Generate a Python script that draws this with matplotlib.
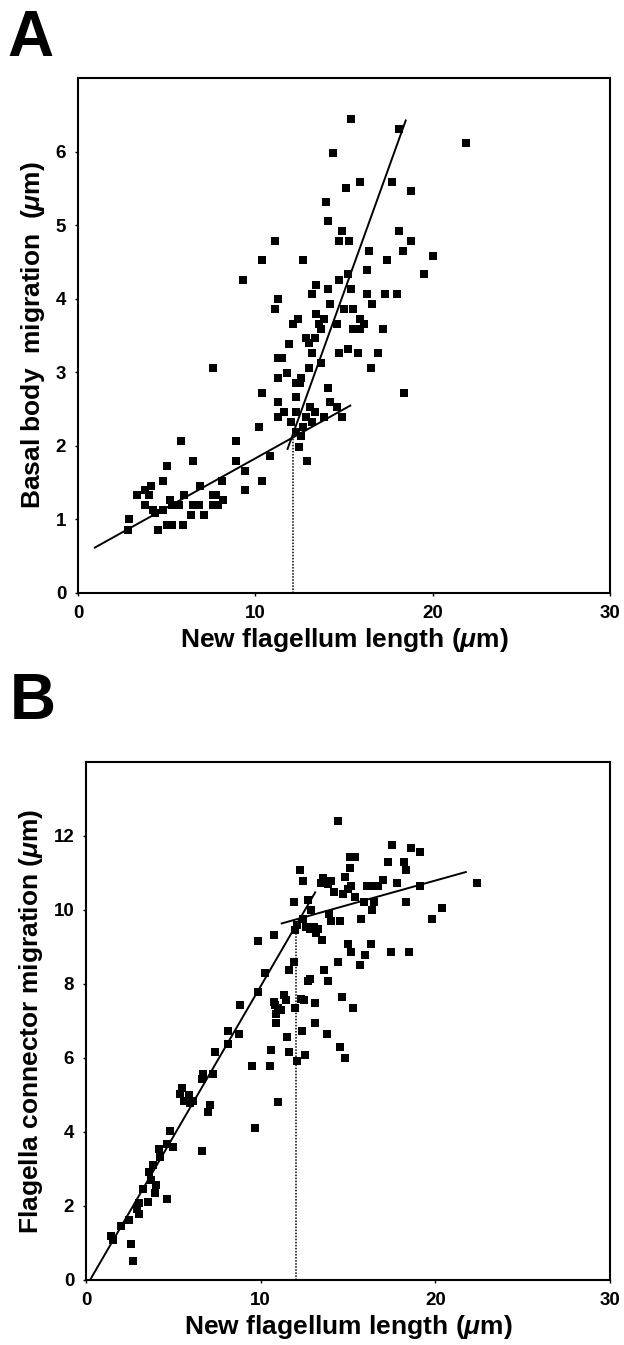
import matplotlib
matplotlib.use("Agg")
import matplotlib.pyplot as plt
import numpy as np

plt.rcParams['font.family'] = ['Liberation Sans', 'DejaVu Sans']
plt.rcParams['font.weight'] = 'bold'
plt.rcParams['mathtext.fontset'] = 'custom'
plt.rcParams['mathtext.rm'] = 'Liberation Sans:bold'
plt.rcParams['mathtext.it'] = 'Liberation Sans:italic:bold'
plt.rcParams['mathtext.bf'] = 'Liberation Sans:bold'

# panel A: new flagellum length vs basal body migration (um)
a_len = [15.4, 18.1, 21.9, 14.4, 15.1, 15.9, 17.7, 18.8, 14.0, 14.1,
         14.9, 18.1, 11.1, 14.7, 15.3, 18.8, 10.4, 12.7, 16.4, 18.3,
         17.4, 20.0, 9.3, 14.7, 15.2, 16.3, 19.5, 13.4, 14.1, 15.4,
         11.3, 13.2, 16.3, 17.3, 18.0, 11.1, 14.2, 16.6, 15.0, 15.5,
         12.4, 13.4, 12.1, 13.6, 13.9, 14.6, 15.9, 16.1, 15.5, 15.9,
         17.2, 13.7,
         11.9, 12.85, 13.35, 13.0, 11.3, 11.5, 13.2, 14.7, 15.2, 15.8,
         16.9, 13.7, 7.6, 13.0, 16.5, 11.3, 11.8, 12.3, 12.6, 12.5,
         14.1, 18.4, 10.4, 12.3, 11.3, 14.2, 14.6, 13.1, 13.35, 11.6,
         12.3, 11.3, 12.85, 13.2, 13.85, 14.9, 12.0, 12.7, 10.2, 12.3,
         12.6, 12.45, 8.9, 5.8, 10.8, 12.9, 6.5, 8.9, 9.4, 5.0,
         10.4, 4.8, 8.1, 4.1, 6.9, 3.8, 3.3, 4.0, 6.0, 7.6,
         7.8, 9.4, 5.2, 8.2, 3.8, 4.25, 4.36, 5.3, 5.7, 6.5,
         6.8, 7.6, 7.9, 4.8, 6.4, 7.1, 2.9, 2.8, 4.5, 5.0,
         5.3, 5.9]
a_mig = [6.44, 6.31, 6.11, 5.98, 5.51, 5.58, 5.58, 5.46, 5.32, 5.06,
         4.92, 4.92, 4.79, 4.79, 4.79, 4.79, 4.52, 4.52, 4.65, 4.65,
         4.52, 4.58, 4.26, 4.26, 4.33, 4.39, 4.33, 4.19, 4.13, 4.13,
         4.00, 4.06, 4.06, 4.06, 4.06, 3.86, 3.93, 3.93, 3.86, 3.86,
         3.73, 3.79, 3.66, 3.66, 3.73, 3.66, 3.73, 3.66, 3.59, 3.59,
         3.59, 3.59,
         3.39, 3.46, 3.46, 3.40, 3.19, 3.19, 3.26, 3.26, 3.32, 3.26,
         3.26, 3.12, 3.06, 3.06, 3.06, 2.92, 2.99, 2.86, 2.92, 2.86,
         2.79, 2.72, 2.72, 2.66, 2.59, 2.59, 2.53, 2.53, 2.46, 2.46,
         2.46, 2.39, 2.39, 2.33, 2.39, 2.39, 2.33, 2.26, 2.26, 2.19,
         2.13, 1.99, 2.06, 2.06, 1.86, 1.79, 1.79, 1.79, 1.66, 1.73,
         1.52, 1.52, 1.52, 1.46, 1.46, 1.40, 1.33, 1.33, 1.33, 1.33,
         1.33, 1.40, 1.26, 1.26, 1.20, 1.13, 1.09, 1.20, 1.20, 1.20,
         1.20, 1.20, 1.20, 1.13, 1.06, 1.06, 1.00, 0.86, 0.86, 0.93,
         0.93, 0.93]

# panel B: new flagellum length vs flagella connector migration (um)
b_len = [14.4, 17.5, 18.6, 19.1, 15.1, 15.4, 17.3, 18.2, 15.1, 18.3,
         12.25, 12.4, 13.55, 14.0, 13.45, 13.85, 14.85, 17.0, 17.8, 22.4,
         15.2, 15.0, 16.1, 16.5, 16.7, 19.1, 14.2, 14.7, 15.4, 12.7,
         11.9, 15.9, 16.5, 18.3, 12.9, 16.4, 20.4, 13.9, 12.4, 14.0,
         14.55, 15.75, 19.8, 12.1, 12.6, 13.05, 12.8, 13.3, 13.15, 13.5,
         11.95, 10.75, 9.85, 15.0, 16.3, 15.2, 15.95, 17.45, 18.5, 14.45,
         15.7, 11.9, 10.25, 11.6, 13.6, 12.85, 12.7, 13.85, 9.85, 11.35,
         11.45, 14.65, 12.3, 12.5, 8.8, 10.75, 10.8, 13.1, 15.3, 11.95,
         11.0,
         10.85, 10.85, 11.15, 13.1, 12.35, 11.5, 13.8, 8.15, 8.75, 8.15,
         7.4, 10.6, 11.6, 12.55, 12.1, 14.55, 14.8, 9.5, 10.55, 6.7,
         7.25, 6.65, 5.4, 5.5, 5.9, 6.15, 5.6, 5.95, 7.1, 7.0,
         11.0, 9.7, 6.65, 4.8, 4.65, 5.0, 4.2, 4.25, 3.85, 3.6,
         3.7, 4.0, 3.95, 4.65, 3.25, 3.55, 3.05, 2.9, 3.05, 2.45,
         2.0, 1.45, 1.55, 2.55, 2.7]
b_mig = [12.41, 11.76, 11.67, 11.58, 11.44, 11.44, 11.30, 11.30, 11.14, 11.07,
         11.07, 10.79, 10.87, 10.79, 10.74, 10.69, 10.88, 10.80, 10.72, 10.72,
         10.64, 10.57, 10.64, 10.64, 10.64, 10.64, 10.50, 10.42, 10.36, 10.28,
         10.21, 10.21, 10.21, 10.21, 9.99, 9.99, 10.06, 9.88, 9.76, 9.71,
         9.71, 9.76, 9.76, 9.59, 9.55, 9.55, 9.49, 9.49, 9.38, 9.18,
         9.47, 9.32, 9.17, 9.09, 9.09, 8.87, 8.79, 8.87, 8.87, 8.60,
         8.52, 8.60, 8.30, 8.37, 8.37, 8.14, 8.07, 8.07, 7.78, 7.71,
         7.56, 7.64, 7.60, 7.56, 7.42, 7.51, 7.42, 7.49, 7.35, 7.35,
         7.35,
         7.19, 6.94, 7.30, 6.94, 6.72, 6.58, 6.64, 6.72, 6.64, 6.38,
         6.15, 6.22, 6.15, 6.08, 5.92, 6.29, 6.00, 5.79, 5.78, 5.57,
         5.56, 5.42, 5.03, 5.19, 4.99, 4.83, 4.83, 4.79, 4.74, 4.54,
         4.82, 4.11, 3.50, 4.04, 3.68, 3.59, 3.53, 3.32, 3.10, 2.92,
         2.70, 2.56, 2.34, 2.18, 2.47, 2.11, 2.07, 1.93, 1.78, 1.62,
         1.46, 1.19, 1.08, 0.96, 0.52]

# two-phase linear fits: (slope, intercept, x_start, x_end)
a_fits = [(0.134, 0.49, 0.9, 15.4), (0.670, -5.96, 11.8, 18.5)]
b_fits = [(0.8127, -0.187, 0.23, 13.15), (0.1318, 8.16, 11.15, 21.8)]
a_break = 12.15
b_break = 12.05

a_yticks = [0, 1, 2, 3, 4, 5, 6]
b_yticks = [0, 2, 4, 6, 8, 10, 12]
x_ticks = [0, 10, 20, 30]

W, H = 624, 1345
fig = plt.figure(figsize=(W / 100, H / 100), dpi=100)
ax_a = fig.add_axes([78 / W, 1 - 593 / H, 532 / W, 515 / H])
ax_b = fig.add_axes([86 / W, 1 - 1280 / H, 524 / W, 518 / H])

xlab = r"New flagellum length ($\mathit{\mu}$m)"


def draw_panel(ax, xs, ys, fits, brk, yticks, ytop, ylabel):
    ax.plot(xs, ys, 's', color='black', markersize=5.2, markeredgewidth=0)
    for slope, icpt, x0, x1 in fits:
        fx = np.array([x0, x1])
        ax.plot(fx, slope * fx + icpt, color='black', lw=1.4,
                solid_capstyle='butt')
    s0, i0 = fits[0][0], fits[0][1]
    ax.plot([brk, brk], [0, s0 * brk + i0], color='black', lw=1.1,
            linestyle=(0, (1, 1)))
    ax.set_xlim(0, 30)
    ax.set_ylim(0, ytop)
    ax.set_xticks(x_ticks)
    ax.set_yticks(yticks)
    for sp in ax.spines.values():
        sp.set_linewidth(1.5)
    ax.tick_params(direction='out', length=2.5, width=1, labelsize=13.5, pad=6)
    ax.set_xlabel(xlab, fontsize=19, fontweight='bold', labelpad=3)
    ax.set_ylabel(ylabel, fontsize=19, fontweight='bold', labelpad=6)


draw_panel(ax_a, a_len, a_mig, a_fits, a_break, a_yticks, 7,
           r"Basal body  migration  ($\mathit{\mu}$m)")
draw_panel(ax_b, b_len, b_mig, b_fits, b_break, b_yticks, 14,
           r"Flagella connector migration ($\mathit{\mu}$m)")

fig.text(7 / W, 1 - 56 / H, "A", fontsize=46, fontweight='bold',
         va='baseline', ha='left')
fig.text(10 / W, 1 - 719 / H, "B", fontsize=46, fontweight='bold',
         va='baseline', ha='left')

fig.savefig("out.png", dpi=100, facecolor='white')
